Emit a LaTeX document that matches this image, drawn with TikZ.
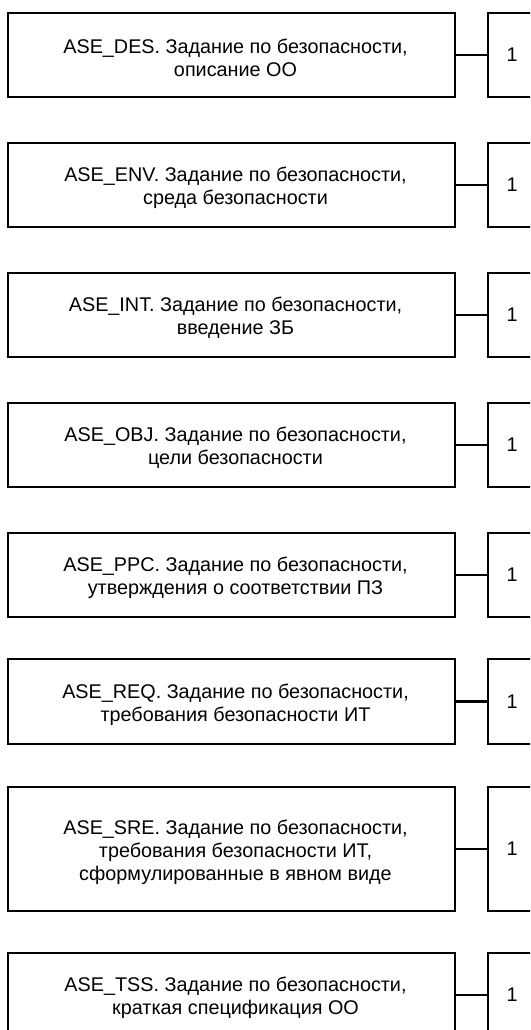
\documentclass[tikz,border=0pt]{standalone}
\usepackage{fontspec}
\setmainfont{Liberation Sans}
\begin{document}
\begin{tikzpicture}[x=1pt,y=-1pt,
  lbox/.style={draw, line width=2.9pt, minimum width=447pt, inner sep=0pt},
  ltext/.style={inner sep=0pt, align=center, font=\fontsize{19.8}{23}\selectfont},
  rbox/.style={draw, line width=2.9pt, minimum width=48pt, inner sep=0pt,
    font=\fontsize{19.8}{23}\selectfont},
  link/.style={line width=2.2pt}]
\newcommand\rowbox[4]{%
  \node[lbox, minimum height=#3] (L#1) at (231.5,#2) {};
  \node[ltext] (T#1) at ([shift={(4,3)}]L#1.center) {#4};
  \node[rbox, minimum height=#3] (R#1) at (512,#2) {1};
  \draw[link] (L#1.east) -- (R#1.west);}
\useasboundingbox (0,0) rectangle (530,1030);
\clip (0,0) rectangle (530,1030);
\fill[white] (0,0) rectangle (530,1030);
\rowbox{1}{55}{84pt}{ASE\_DES. Задание по безопасности,\\описание ОО}
\rowbox{2}{185}{84pt}{ASE\_ENV. Задание по безопасности,\\среда безопасности}
\rowbox{3}{315}{84pt}{ASE\_INT. Задание по безопасности,\\введение ЗБ}
\rowbox{4}{445}{84pt}{ASE\_OBJ. Задание по безопасности,\\цели безопасности}
\rowbox{5}{575}{84pt}{ASE\_PPC. Задание по безопасности,\\утверждения о соответствии ПЗ}
\rowbox{6}{701.5}{85pt}{ASE\_REQ. Задание по безопасности,\\требования безопасности ИТ}
\rowbox{7}{849}{124pt}{ASE\_SRE. Задание по безопасности,\\требования безопасности ИТ,\\сформулированные в явном виде}
\rowbox{8}{995}{84pt}{ASE\_TSS. Задание по безопасности,\\краткая спецификация ОО}
\end{tikzpicture}
\end{document}
